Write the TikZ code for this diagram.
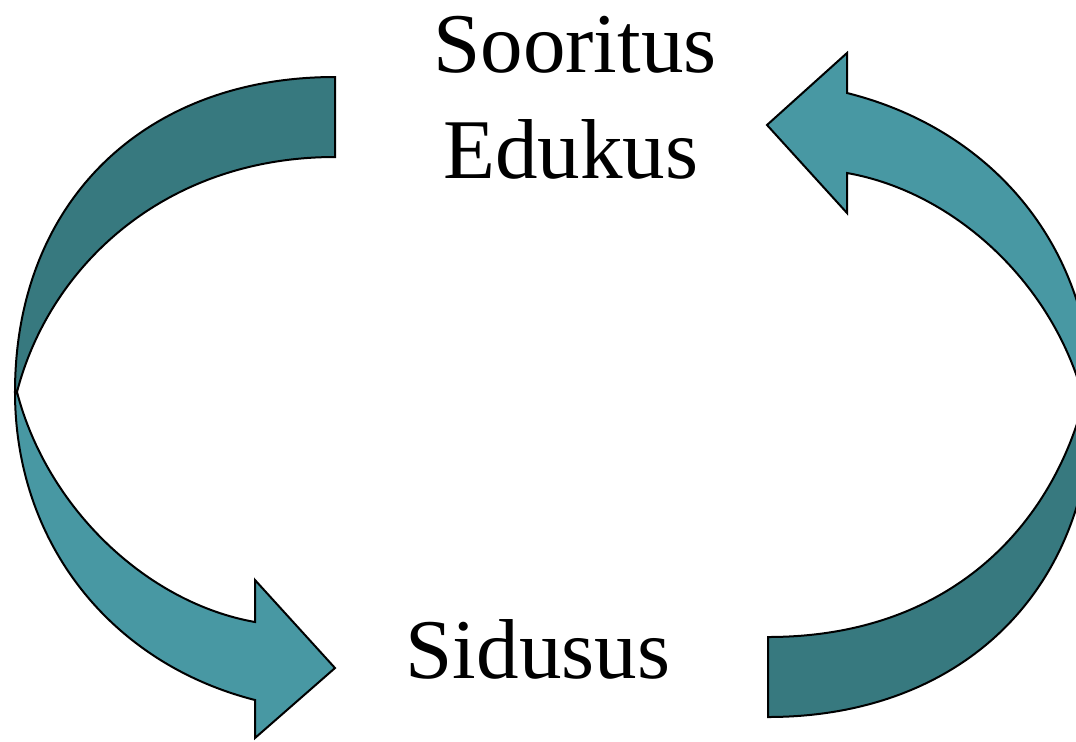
\documentclass[tikz,border=0pt]{standalone}
\usepackage{fontspec}
\setmainfont{Liberation Serif}
\definecolor{tealdark}{RGB}{55,121,127}
\definecolor{teallight}{RGB}{72,152,163}
\begin{document}
\begin{tikzpicture}[x=0.5pt,y=-0.5pt,
  band/.style={draw=black,line width=1pt,line join=miter},
  lbl/.style={font=\fontsize{42.5}{50}\selectfont,inner sep=0pt,anchor=base}]
\useasboundingbox (0,0) rectangle (1076,741);
\clip (0,0) rectangle (1076,741);
% left arrow: dark tail (top)
\draw[band,fill=tealdark] (335,77) .. controls (143,77) and (15,203) .. (15,392)
  -- (17,392) .. controls (49.5,266) and (165,157) .. (335,157) -- cycle;
% left arrow: light head (bottom)
\draw[band,fill=teallight] (15,392) .. controls (15,542) and (110,663) .. (255,700)
  -- (255,738) -- (335,668) -- (255,580) -- (255,622)
  .. controls (147,603) and (47,508) .. (17,392) -- cycle;
% right arrow: dark tail (bottom)
\draw[band,fill=tealdark] (768,717) .. controls (962,717) and (1092,590) .. (1092,400)
  -- (1084,400) .. controls (1051.5,526) and (950,637) .. (768,637) -- cycle;
% right arrow: light head (top)
\draw[band,fill=teallight] (1092,400) .. controls (1092,250) and (995,130) .. (847,93)
  -- (847,53) -- (767,125) -- (847,213) -- (847,173)
  .. controls (955,192) and (1054,284) .. (1084,400) -- cycle;
% labels
\node[lbl] (sooritus) at (575,72.5) {Sooritus};
\node[lbl] (edukus) at (571,178) {Edukus};
\node[lbl] (sidusus) at (538,678) {Sidusus};
\end{tikzpicture}
\end{document}
